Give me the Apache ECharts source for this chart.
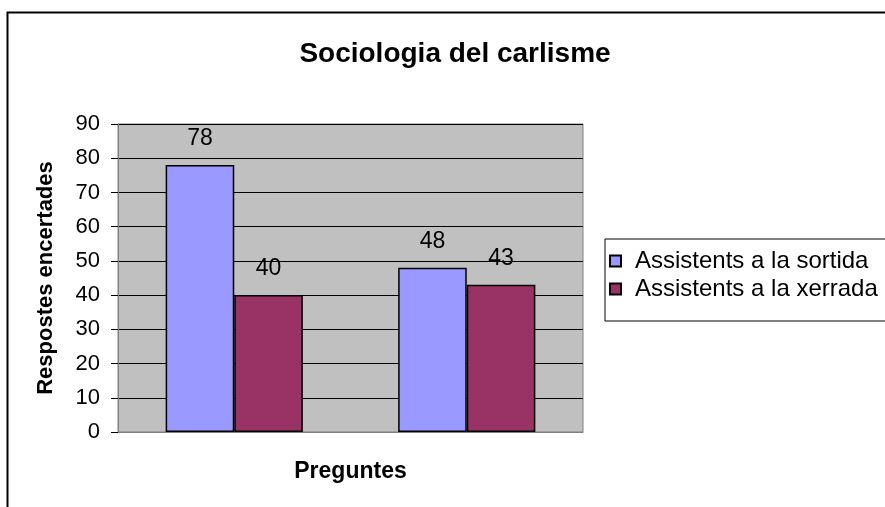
<!DOCTYPE html>
<html>
<head>
<meta charset="utf-8">
<script src="https://cdn.jsdelivr.net/npm/echarts@6/dist/echarts.min.js"></script>
<style>
  html, body { margin: 0; padding: 0; background: #fff; }
  #chart { width: 885px; height: 507px; }
</style>
</head>
<body>
<div id="chart"></div>
<script>
// dades
const categories = ['', ''];
const sortida = [78, 48];
const xerrada = [40, 43];
const seriesNames = ['Assistents a la sortida', 'Assistents a la xerrada'];

const font = 'Liberation Sans, Arial, sans-serif';

let option = {
  backgroundColor: '#fff',
  animation: false,
  title: {
    text: 'Sociologia del carlisme',
    left: 450,
    top: 35,
    textAlign: 'center',
    textStyle: { fontFamily: font, fontSize: 28, fontWeight: 'bold', color: '#000' },
  },
  graphic: [
    {
      // marc exterior
      type: 'rect',
      shape: { x: 7.5, y: 12.5, width: 1000, height: 600 },
      style: { fill: 'none', stroke: '#000', lineWidth: 2 },
      silent: true,
      z: 0,
    },
  ],
  legend: {
    orient: 'vertical',
    left: 605,
    top: 239,
    padding: [10, 30, 20, 4],
    itemGap: 4,
    itemWidth: 11,
    itemHeight: 11,
    icon: 'rect',
    borderColor: '#000',
    borderWidth: 1,
    backgroundColor: '#fff',
    textStyle: { fontFamily: font, fontSize: 24, lineHeight: 20, color: '#000', padding: [0, 0, 0, 9] },
    data: seriesNames,
  },
  grid: {
    left: 118,
    top: 124,
    width: 465,
    height: 308,
    show: true,
    backgroundColor: '#C0C0C0',
    borderColor: '#808080',
    borderWidth: 1,
  },
  xAxis: {
    type: 'category',
    data: categories,
    name: 'Preguntes',
    nameLocation: 'middle',
    nameGap: 28,
    nameTextStyle: { fontFamily: font, fontSize: 23, fontWeight: 'bold', color: '#000' },
    axisLine: { lineStyle: { color: '#808080' } },
    axisTick: { show: false },
    axisLabel: { show: false },
  },
  yAxis: {
    type: 'value',
    min: 0,
    max: 90,
    interval: 10,
    name: 'Respostes encertades',
    nameLocation: 'middle',
    nameGap: 61,
    nameTextStyle: { fontFamily: font, fontSize: 22, fontWeight: 'bold', color: '#000' },
    axisLine: { show: true, lineStyle: { color: '#808080' } },
    axisTick: { show: true, length: 7, lineStyle: { color: '#000' } },
    axisLabel: { fontFamily: font, fontSize: 22, color: '#000', margin: 18 },
    splitLine: { show: true, lineStyle: { color: '#000', width: 1 } },
  },
  series: [
    {
      name: seriesNames[0],
      type: 'bar',
      data: sortida,
      barGap: '0%',
      barCategoryGap: '41%',
      itemStyle: { color: '#9999FF', borderColor: '#000', borderWidth: 1.5 },
      label: { show: true, position: 'top', distance: 15, fontFamily: font, fontSize: 23, color: '#000' },
    },
    {
      name: seriesNames[1],
      type: 'bar',
      data: xerrada,
      barGap: '0%',
      barCategoryGap: '41%',
      itemStyle: { color: '#993366', borderColor: '#000', borderWidth: 1.5 },
      label: { show: true, position: 'top', distance: 15, fontFamily: font, fontSize: 23, color: '#000' },
    },
  ],
};

let chartDom = document.getElementById('chart');
let myChart = echarts.init(chartDom);
myChart.setOption(option);
</script>
</body>
</html>
